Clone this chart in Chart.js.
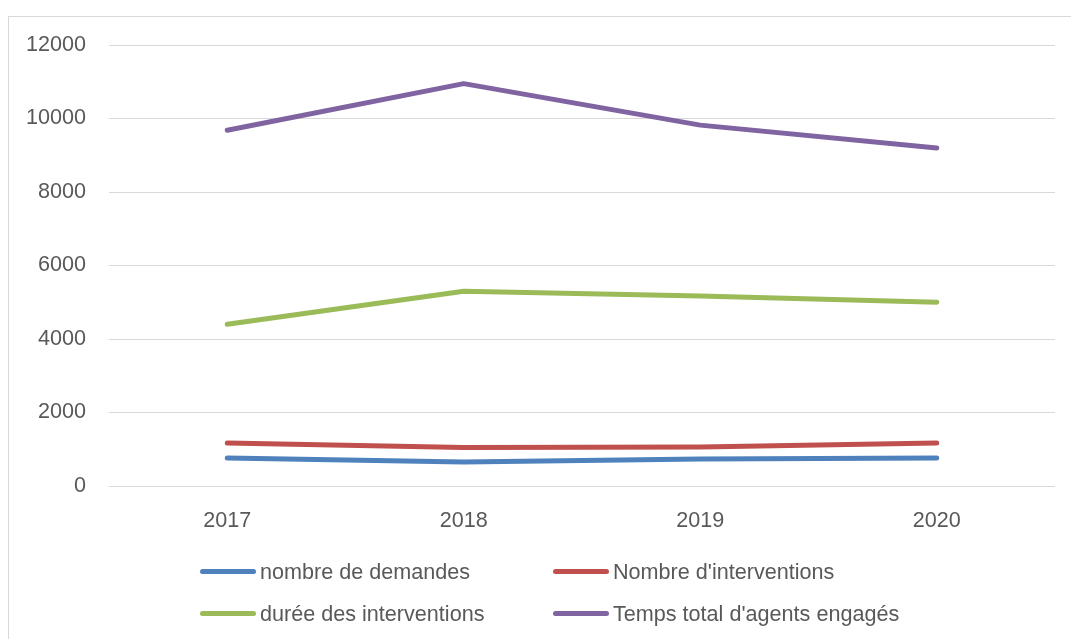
<!DOCTYPE html>
<html>
<head>
<meta charset="utf-8">
<script src="https://cdn.jsdelivr.net/npm/chart.js@4/dist/chart.umd.min.js"></script>
<style>
  html, body { margin: 0; padding: 0; background: #fff; }
  #wrap { position: relative; width: 1071px; height: 639px; overflow: hidden; }
  #frame { position: absolute; left: 8px; top: 16px; width: 1100px; height: 700px; border: 1px solid #d9d9d9; }
  #myChart { position: absolute; left: 0; top: 0; }
  .leg { position: absolute; font-family: "Liberation Sans", Arial, sans-serif; font-size: 21.6px; color: #595959; white-space: nowrap; line-height: 24px; }
  .leg .sw { display: inline-block; width: 56px; height: 5px; border-radius: 3px; vertical-align: middle; margin-right: 4px; position: relative; top: -2px; }
</style>
</head>
<body>
<div id="wrap">
  <div id="frame"></div>
  <canvas id="myChart" width="1071" height="639"></canvas>
  <div id="legend"></div>
</div>
<script>
// années
const years = ['2017', '2018', '2019', '2020'];

// séries
const nbDemandes = [760, 650, 735, 760];
const nbInterventions = [1170, 1050, 1060, 1170];
const dureeInterventions = [4400, 5300, 5170, 5000];
const tempsAgents = [9680, 10950, 9820, 9200];

const seriesNames = ['nombre de demandes', "Nombre d'interventions", 'durée des interventions', "Temps total d'agents engagés"];
const seriesColors = ['#4F81BD', '#C0504D', '#9BBB59', '#8064A2'];

const yTicks = [0, 2000, 4000, 6000, 8000, 10000, 12000];

const allSeries = [nbDemandes, nbInterventions, dureeInterventions, tempsAgents];

const ctx = document.getElementById('myChart').getContext('2d');
const myChart = new Chart(ctx, {
    type: 'line',
    data: {
        labels: years,
        datasets: allSeries.map((vals, i) => ({
            label: seriesNames[i],
            data: vals,
            borderColor: seriesColors[i],
            backgroundColor: seriesColors[i],
            borderWidth: 5,
            borderCapStyle: 'round',
            borderJoinStyle: 'round',
            pointRadius: 0,
            tension: 0,
            fill: false
        }))
    },
    options: {
        responsive: false,
        animation: false,
        layout: { padding: { top: 45, right: 16, bottom: 93, left: 0 } },
        plugins: {
            legend: { display: false },
            tooltip: { enabled: false }
        },
        scales: {
            x: {
                offset: true,
                grid: { display: false, drawTicks: false, offset: true },
                border: { display: false },
                ticks: {
                    color: '#595959',
                    padding: 22,
                    font: { family: 'Liberation Sans', size: 21.6 }
                },
                afterFit: scale => { scale.height = 60; }
            },
            y: {
                min: 0,
                max: 12000,
                afterBuildTicks: scale => { scale.ticks = yTicks.map(v => ({ value: v })); },
                grid: { color: '#d9d9d9', lineWidth: 1, drawTicks: false },
                border: { display: false },
                ticks: {
                    color: '#595959',
                    padding: 23,
                    font: { family: 'Liberation Sans', size: 21.6 },
                    callback: v => String(v)
                },
                afterFit: scale => { scale.width = 109; }
            }
        }
    }
});

// légende en 2 lignes
const legend = document.getElementById('legend');
const legPos = [[200, 560], [553, 560], [200, 602], [553, 602]];
seriesNames.forEach((name, i) => {
    const d = document.createElement('div');
    d.className = 'leg';
    d.style.left = legPos[i][0] + 'px';
    d.style.top = legPos[i][1] + 'px';
    d.innerHTML = '<span class="sw" style="background:' + seriesColors[i] + '"></span>' + name;
    legend.appendChild(d);
});
</script>
</body>
</html>
